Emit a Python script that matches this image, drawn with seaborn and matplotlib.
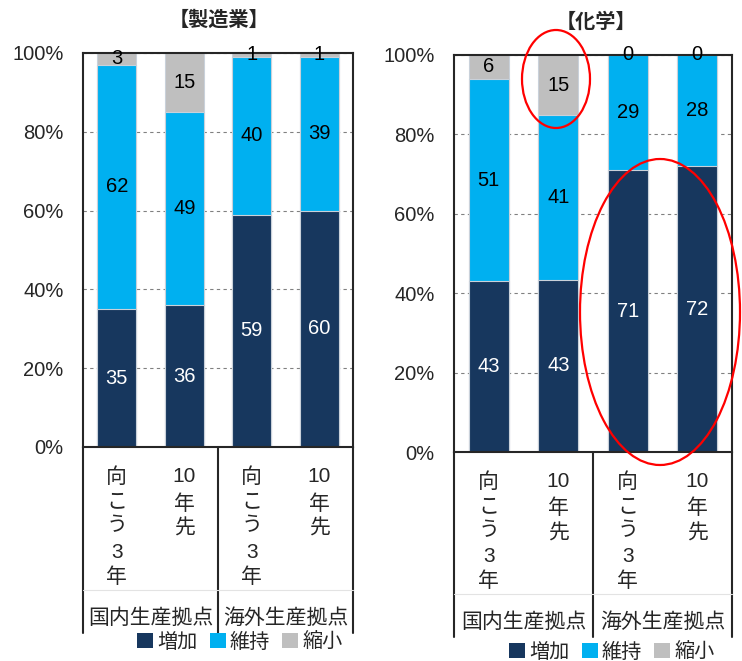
import matplotlib
matplotlib.use("Agg")
import matplotlib.pyplot as plt
from matplotlib.patches import Patch, Ellipse
import numpy as np
import seaborn as sns

W, H = 742, 661

bars = ["国内・向こう3年", "国内・10年先", "海外・向こう3年", "海外・10年先"]
period_labels = [["向", "こ", "う", "3", "年"], ["10", "年", "先"],
                 ["向", "こ", "う", "3", "年"], ["10", "年", "先"]]
groups = ["国内生産拠点", "海外生産拠点"]
series = ["増加", "維持", "縮小"]
colors = ["#17375E", "#00B0F0", "#BFBFBF"]
yticks = [0, 20, 40, 60, 80, 100]
ytick_labels = ["0%", "20%", "40%", "60%", "80%", "100%"]

mfg_title = "【製造業】"
mfg_increase = [35, 36, 59, 60]
mfg_keep = [62, 49, 40, 39]
mfg_shrink = [3, 15, 1, 1]

chem_title = "【化学】"
chem_increase = [43, 43, 71, 72]
chem_keep = [51, 41, 29, 28]
chem_shrink = [6, 15, 0, 0]

sns.set_theme(style="white")
plt.rcParams["font.family"] = ["Liberation Sans", "Noto Sans CJK JP"]

fig = plt.figure(figsize=(W / 100, H / 100), dpi=100)


def px_box(x0, y0, x1, y1):
    return [x0 / W, 1 - y1 / H, (x1 - x0) / W, (y1 - y0) / H]


def draw_panel(ax, tab, values, title, title_xy, legend_xy):
    vals = np.array(values, dtype=float)
    share = vals / vals.sum(axis=0) * 100
    cum = np.cumsum(share, axis=0)
    # layered 100% stacked bars: tallest cumulative first
    for k in reversed(range(len(series))):
        sns.barplot(x=bars, y=cum[k], color=colors[k], saturation=1,
                    width=0.58, edgecolor="#c9d1da", linewidth=0.8,
                    errorbar=None, ax=ax, zorder=2)
    for k in range(len(series)):
        for i in range(len(bars)):
            ax.text(i, cum[k][i] - share[k][i] / 2, f"{vals[k][i]:.0f}",
                    ha="center", va="center", fontsize=14.5,
                    color="white" if k == 0 else "black", zorder=4,
                    clip_on=False)
    ax.set_xlim(-0.5, 3.5)
    ax.set_ylim(0, 100)
    ax.set_yticks(yticks)
    ax.set_yticklabels(ytick_labels, fontsize=14.5)
    ax.set_xticks([])
    ax.set_xlabel("")
    ax.set_ylabel("")
    ax.tick_params(axis="y", length=0, pad=14)
    ax.yaxis.grid(True, linestyle=(0, (3, 3)), color="#808080", linewidth=0.8)
    ax.set_axisbelow(True)
    for sp in ax.spines.values():
        sp.set_visible(True)
        sp.set_color("#262626")
        sp.set_linewidth(1.5)

    # category table below the bars
    th = 186
    tab.set_xlim(-0.5, 3.5)
    tab.set_ylim(th, 0)
    tab.axis("off")
    for xv in (-0.5, 1.5, 3.5):
        tab.plot([xv, xv], [0, th], color="#262626", lw=1.5, clip_on=False)
    tab.plot([-0.5, 3.5], [143, 143], color="#e3e3e3", lw=0.8, clip_on=False)
    offsets = [30, 55, 79, 105, 130]
    offsets_b = [30, 57, 82]
    for i, chars in enumerate(period_labels):
        ys = offsets if len(chars) == 5 else offsets_b
        for ch, yv in zip(chars, ys):
            tab.text(i, yv, ch, ha="center", va="center", fontsize=15)
    for g, label in enumerate(groups):
        tab.text(2 * g + 0.5, 171, label, ha="center", va="center", fontsize=15)

    fig.text(title_xy[0] / W, 1 - title_xy[1] / H, title, ha="center",
             va="center", fontsize=14.5, fontweight="bold")

    handles = [Patch(facecolor=c, edgecolor="none") for c in colors]
    fig.legend(handles, series, loc="center",
               bbox_to_anchor=(legend_xy[0] / W, 1 - legend_xy[1] / H),
               ncol=3, frameon=False, fontsize=14.5, handlelength=0.8,
               handleheight=0.8, handletextpad=0.2, columnspacing=0.6,
               borderaxespad=0, borderpad=0)


ax1 = fig.add_axes(px_box(83, 53, 353, 447))
tab1 = fig.add_axes(px_box(83, 447, 353, 633))
ax2 = fig.add_axes(px_box(454, 55, 732, 452))
tab2 = fig.add_axes(px_box(454, 452, 732, 637))

draw_panel(ax1, tab1, [mfg_increase, mfg_keep, mfg_shrink], mfg_title,
           (219, 20), (240, 642))
draw_panel(ax2, tab2, [chem_increase, chem_keep, chem_shrink], chem_title,
           (596, 22), (612, 652))

# highlight rings
for cx, cy, ew, eh in [(556, 79, 68, 98), (660, 312, 160, 306)]:
    fig.add_artist(Ellipse((cx / W, 1 - cy / H), ew / W, eh / H,
                           transform=fig.transFigure, fill=False,
                           edgecolor="#ff0000", linewidth=1.6, zorder=10))

fig.savefig("out.png", dpi=100)
